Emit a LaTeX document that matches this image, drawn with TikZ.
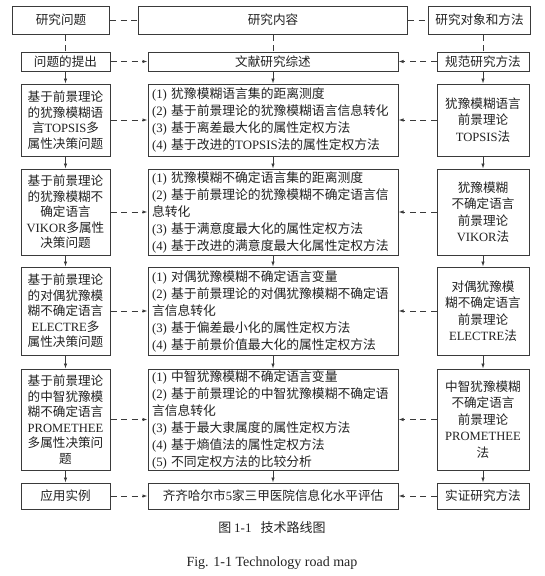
\documentclass[tikz,border=0pt]{standalone}
\usepackage{fontspec}
\setmainfont{Noto Sans CJK SC}
\newfontfamily\lat{Liberation Serif}
\newcommand{\en}[1]{{\lat #1}}
\usepackage{tikz}
\usetikzlibrary{positioning,arrows.meta}
\definecolor{ink}{HTML}{222222}
\definecolor{frame}{HTML}{3A3A3A}

\begin{document}
\begin{tikzpicture}[x=1pt, y=-1pt,
    node distance=12pt and 37pt,
    box/.style={draw=frame, line width=1pt, fill=white, text=ink, inner xsep=3pt, inner ysep=1pt, align=center, font=\fontsize{12.6}{15.5}\selectfont},
    lbox/.style={box, minimum width=89pt},
    mbox/.style={box, minimum width=250pt},
    tbox/.style={mbox, align=left, text width=242pt, inner xsep=4pt, font=\fontsize{12.8}{17}\selectfont},
    rbox/.style={box, minimum width=92pt, font=\fontsize{12.6}{16.5}\selectfont},
    arr/.style={-{Latex[length=5pt,width=3.5pt]}, line width=0.8pt, draw=frame},
    dline/.style={line width=0.9pt, draw=frame, dash pattern=on 6pt off 4.5pt},
    darr/.style={dline, -{Latex[length=5pt,width=3.5pt]}}
]
    \useasboundingbox (0,0) rectangle (544,576);

    % Second row (anchor of the layout)
    \node[lbox, minimum height=19pt] (l2) at (65.5,61.5) {问题的提出};
    \node[mbox, minimum height=19pt, right=of l2] (m2) {文献研究综述};
    \node[rbox, minimum height=19pt, right=38pt of m2] (r2) {规范研究方法};

    % Header row
    \node[mbox, minimum width=269pt, minimum height=28pt, above=17pt of m2] (m1) {研究内容};
    \node[box, minimum width=97pt, minimum height=28pt, left=28pt of m1] (l1) {研究问题};
    \node[box, minimum width=102pt, minimum height=28pt, right=20pt of m1] (r1) {研究对象和方法};

    % TOPSIS row
    \node[lbox, minimum height=72pt, below=of l2] (l3) {基于前景理论\\的犹豫模糊语\\言\en{TOPSIS}多\\属性决策问题};
    \node[tbox, minimum height=72pt, right=of l3] (m3) {\en{(1)~}犹豫模糊语言集的距离测度\\\en{(2)~}基于前景理论的犹豫模糊语言信息转化\\\en{(3)~}基于离差最大化的属性定权方法\\\en{(4)~}基于改进的\en{TOPSIS}法的属性定权方法};
    \node[rbox, minimum height=72pt, right=38pt of m3] (r3) {犹豫模糊语言\\前景理论\\\en{TOPSIS}法};

    % VIKOR row
    \node[lbox, minimum height=86pt, below=of l3] (l4) {基于前景理论\\的犹豫模糊不\\确定语言\\\en{VIKOR}多属性\\决策问题};
    \node[tbox, minimum height=86pt, right=of l4] (m4) {\en{(1)~}犹豫模糊不确定语言集的距离测度\\\en{(2)~}基于前景理论的犹豫模糊不确定语言信\\息转化\\\en{(3)~}基于满意度最大化的属性定权方法\\\en{(4)~}基于改进的满意度最大化属性定权方法};
    \node[rbox, minimum height=86pt, right=38pt of m4] (r4) {犹豫模糊\\不确定语言\\前景理论\\\en{VIKOR}法};

    % ELECTRE row
    \node[lbox, minimum height=88pt, below=11pt of l4] (l5) {基于前景理论\\的对偶犹豫模\\糊不确定语言\\\en{ELECTRE}多\\属性决策问题};
    \node[tbox, minimum height=88pt, right=of l5] (m5) {\en{(1)~}对偶犹豫模糊不确定语言变量\\\en{(2)~}基于前景理论的对偶犹豫模糊不确定语\\言信息转化\\\en{(3)~}基于偏差最小化的属性定权方法\\\en{(4)~}基于前景价值最大化的属性定权方法};
    \node[rbox, minimum height=88pt, right=38pt of m5] (r5) {对偶犹豫模\\糊不确定语言\\前景理论\\\en{ELECTRE}法};

    % PROMETHEE row
    \node[lbox, minimum height=101pt, below=13pt of l5] (l6) {基于前景理论\\的中智犹豫模\\糊不确定语言\\\en{PROMETHEE}\\多属性决策问\\题};
    \node[tbox, minimum height=101pt, right=of l6] (m6) {\en{(1)~}中智犹豫模糊不确定语言变量\\\en{(2)~}基于前景理论的中智犹豫模糊不确定语\\言信息转化\\\en{(3)~}基于最大隶属度的属性定权方法\\\en{(4)~}基于熵值法的属性定权方法\\\en{(5)~}不同定权方法的比较分析};
    \node[rbox, minimum height=101pt, right=38pt of m6] (r6) {中智犹豫模糊\\不确定语言\\前景理论\\\en{PROMETHEE}\\法};

    % Application row
    \node[lbox, minimum height=26pt, below=of l6] (l7) {应用实例};
    \node[mbox, minimum height=26pt, right=of l7] (m7) {齐齐哈尔市\en{5}家三甲医院信息化水平评估};
    \node[rbox, minimum height=26pt, right=38pt of m7] (r7) {实证研究方法};

    % Captions
    \node[text=ink, font=\fontsize{13}{15}\selectfont] (cap) at (272,528) {图\ \en{1-1}\hspace{0.7em}技术路线图};
    \node[text=ink, font=\lat\fontsize{14}{16}\selectfont] (capen) at (272,563) {Fig. 1-1 Technology road map};

    % Header links
    \draw[dline] (l1) -- (m1); \draw[dline] (m1) -- (r1);
    \draw[dline] (l1.south -| l2) -- (l2.north); \draw[dline] (m1.south -| m2) -- (m2.north); \draw[dline] (r1.south -| r2) -- (r2.north);

    % Downward flow
    \draw[arr] (l2) -- (l3); \draw[arr] (l3) -- (l4); \draw[arr] (l4) -- (l5); \draw[arr] (l5) -- (l6); \draw[arr] (l6) -- (l7);
    \draw[arr] (m2) -- (m3); \draw[arr] (m3) -- (m4); \draw[arr] (m4) -- (m5); \draw[arr] (m5) -- (m6); \draw[arr] (m6) -- (m7);
    \draw[arr] (r2) -- (r3); \draw[arr] (r3) -- (r4); \draw[arr] (r4) -- (r5); \draw[arr] (r5) -- (r6); \draw[arr] (r6) -- (r7);

    % Side links into the content column
    \draw[darr] (l2) -- (m2); \draw[darr] (r2) -- (m2);
    \draw[darr] (l3) -- (m3); \draw[darr] (r3) -- (m3);
    \draw[darr] (l4) -- (m4); \draw[darr] (r4) -- (m4);
    \draw[darr] (l5) -- (m5); \draw[darr] (r5) -- (m5);
    \draw[darr] (l6) -- (m6); \draw[darr] (r6) -- (m6);
    \draw[darr] (l7) -- (m7); \draw[darr] (r7) -- (m7);
\end{tikzpicture}
\end{document}
